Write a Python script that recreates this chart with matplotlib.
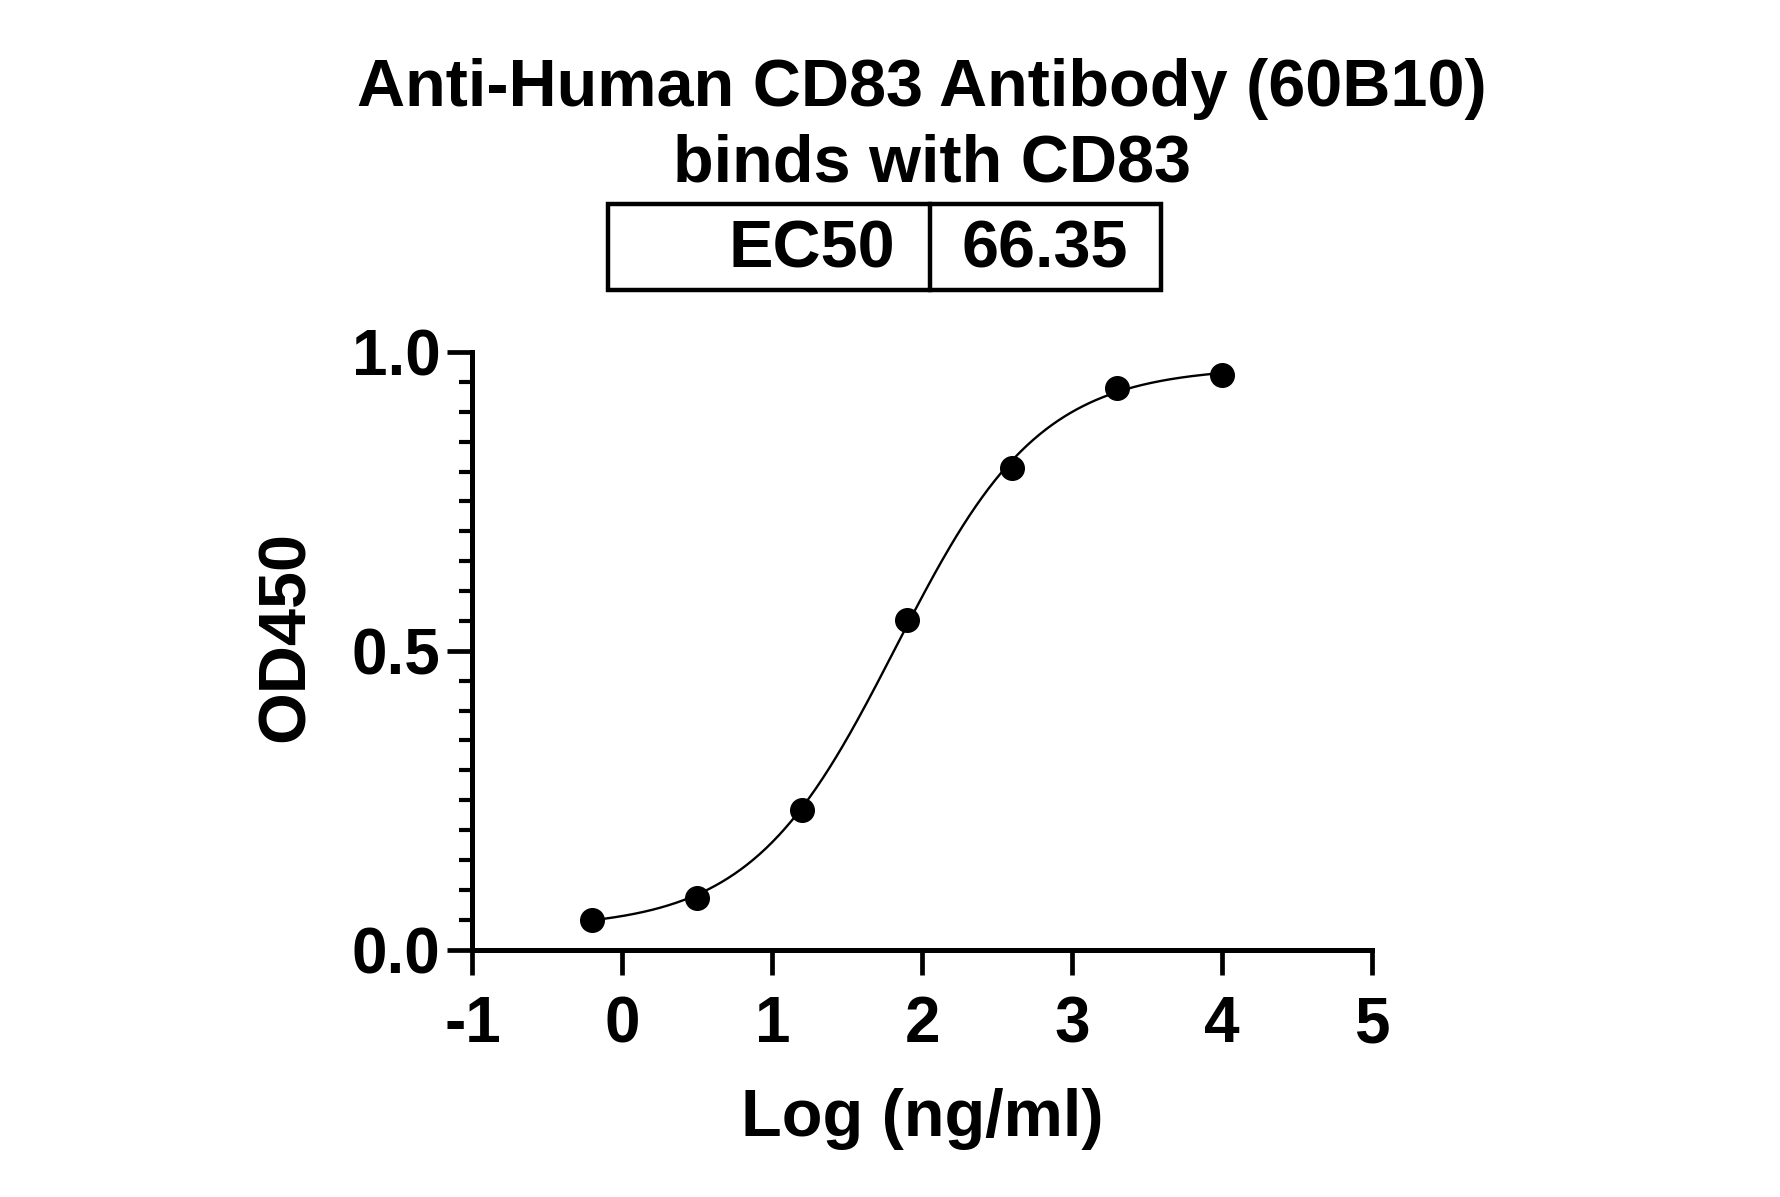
import numpy as np
import matplotlib
matplotlib.use("Agg")
from matplotlib import pyplot as plt
from matplotlib.patches import Rectangle
from matplotlib.lines import Line2D

# measured points: log10 of concentration (ng/ml) vs OD450
log_conc = [-0.2, 0.5, 1.2, 1.9, 2.6, 3.3, 4.0]
od450 = [0.049, 0.087, 0.234, 0.551, 0.806, 0.939, 0.962]

# 4PL fit parameters (EC50 from the reference table)
fit_bottom = 0.035
fit_top = 0.975
ec50 = 66.35
hill = 0.9

x_ticks = [-1, 0, 1, 2, 3, 4, 5]
y_ticks = [0.0, 0.5, 1.0]
y_tick_labels = ["0.0", "0.5", "1.0"]

title_lines = ["Anti-Human CD83 Antibody (60B10)", "binds with CD83"]
table_cells = ["EC50", "66.35"]

W, H = 1781, 1197


def fx(px):
    return px / W


def fy(py):
    return 1 - py / H


plt.rcParams["font.family"] = ["Liberation Sans", "DejaVu Sans"]
plt.rcParams["font.weight"] = "bold"
plt.rcParams["axes.unicode_minus"] = False

fig = plt.figure(figsize=(W / 100, H / 100), dpi=100)
ax = fig.add_axes([fx(472.5), fy(949.5), fx(1372) - fx(472.5), fy(352) - fy(949.5)])

# fitted curve between first and last point
xs = np.linspace(min(log_conc), max(log_conc), 400)
curve = fit_bottom + (fit_top - fit_bottom) / (1 + 10 ** ((np.log10(ec50) - xs) * hill))
ax.plot(xs, curve, color="black", lw=1.7)
ax.plot(log_conc, od450, "o", color="black", ms=17, clip_on=False)

ax.set_xlim(-1, 5)
ax.set_ylim(0, 1)
ax.set_xticks(x_ticks)
ax.set_xticklabels([str(t) for t in x_ticks])
ax.set_yticks(y_ticks)
ax.set_yticklabels(y_tick_labels)
ax.set_yticks(np.arange(0, 1.001, 0.05), minor=True)

for side in ["top", "right"]:
    ax.spines[side].set_visible(False)
for side in ["left", "bottom"]:
    ax.spines[side].set_linewidth(3.6)

ax.tick_params(which="major", length=18, width=3.4, labelsize=46)
ax.tick_params(axis="x", pad=15)
ax.tick_params(axis="y", pad=5)
ax.tick_params(axis="y", which="minor", length=9.5, width=3.0)

fig.text(fx(287), fy(636), "OD450", rotation=90, ha="center", va="center",
         fontsize=48, fontweight="bold")
fig.text(fx(922), fy(1119), "Log (ng/ml)", ha="center", va="center",
         fontsize=48, fontweight="bold")

fig.text(fx(922), fy(106), title_lines[0], ha="center", va="baseline",
         fontsize=48, fontweight="bold")
fig.text(fx(932), fy(182), title_lines[1], ha="center", va="baseline",
         fontsize=48, fontweight="bold")

# EC50 box
box = Rectangle((fx(608), fy(290)), fx(1161) - fx(608), fy(204) - fy(290),
                transform=fig.transFigure, fill=False, lw=3.2, ec="black")
fig.add_artist(box)
fig.add_artist(Line2D([fx(930), fx(930)], [fy(290), fy(204)],
                      transform=fig.transFigure, lw=3.2, color="black"))
fig.text(fx(895), fy(268), table_cells[0], ha="right", va="baseline",
         fontsize=48, fontweight="bold")
fig.text(fx(962), fy(268), table_cells[1], ha="left", va="baseline",
         fontsize=48, fontweight="bold")

fig.savefig("out.png", dpi=100, facecolor="white")
